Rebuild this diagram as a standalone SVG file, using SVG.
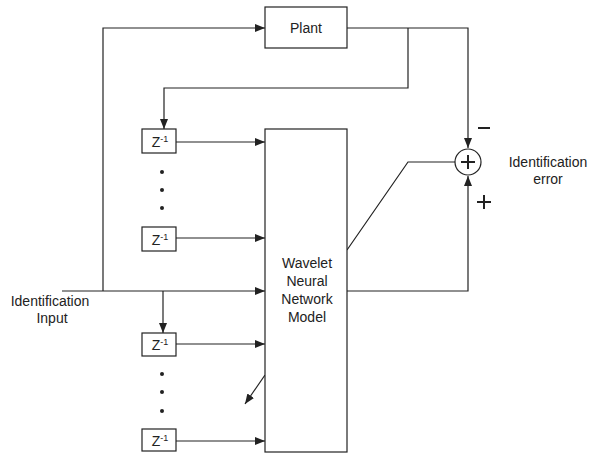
<svg xmlns="http://www.w3.org/2000/svg" width="592" height="455" viewBox="0 0 592 455">
<style>
.box{fill:#fff;stroke:#222;stroke-width:1.2}
.ln{fill:none;stroke:#222;stroke-width:1.2}
.ar{marker-end:url(#ah)}
text{font-family:"Liberation Sans",Arial,sans-serif;font-size:14px;fill:#222;text-anchor:middle}
.z{font-size:14px}
.sup{font-size:9px}
.dot{fill:#222}
.sg{stroke:#222;stroke-width:2;fill:none}
</style>
<defs>
<marker id="ah" markerUnits="userSpaceOnUse" markerWidth="10" markerHeight="8" refX="10" refY="4" orient="auto">
<path d="M0,0 L10,4 L0,8 z" fill="#222"/>
</marker>
</defs>
<rect width="592" height="455" fill="#fff"/>
<g id="connectors">
<path class="ln ar" d="M62,291 H265"/>
<path class="ln ar" d="M103,291 V28 H265"/>
<path class="ln ar" d="M347,28 H468 V148"/>
<path class="ln ar" d="M408,28 V88 H164 V129"/>
<path class="ln ar" d="M176,142 H265"/>
<path class="ln ar" d="M176,238 H265"/>
<path class="ln ar" d="M163,291 V333"/>
<path class="ln ar" d="M176,344 H265"/>
<path class="ln ar" d="M176,441 H265"/>
<path class="ln ar" d="M265,375 L245,404"/>
<path class="ln ar" d="M347,291 H468 V176"/>
<path class="ln" d="M347,250 L408,162 H455"/>
</g>
<g id="plant">
<rect class="box" x="265" y="7" width="82" height="41"/>
<text x="306" y="33">Plant</text>
</g>
<g id="wnn">
<rect class="box" x="265" y="129" width="82" height="323"/>
<text x="307" y="268">Wavelet</text>
<text x="307" y="286">Neural</text>
<text x="307" y="304">Network</text>
<text x="307" y="322">Model</text>
</g>
<g id="z1">
<rect class="box" x="142" y="129" width="34" height="24"/>
<text class="z" x="160" y="147">Z<tspan class="sup" dy="-5">-1</tspan></text>
</g>
<g id="dots1">
<circle class="dot" cx="162" cy="172" r="2"/>
<circle class="dot" cx="162" cy="190" r="2"/>
<circle class="dot" cx="162" cy="208" r="2"/>
</g>
<g id="z2">
<rect class="box" x="142" y="227" width="34" height="24"/>
<text class="z" x="160" y="245">Z<tspan class="sup" dy="-5">-1</tspan></text>
</g>
<g id="z3">
<rect class="box" x="142" y="333" width="34" height="23"/>
<text class="z" x="160" y="350">Z<tspan class="sup" dy="-5">-1</tspan></text>
</g>
<g id="dots2">
<circle class="dot" cx="162" cy="374" r="2"/>
<circle class="dot" cx="162" cy="392" r="2"/>
<circle class="dot" cx="162" cy="411" r="2"/>
</g>
<g id="z4">
<rect class="box" x="142" y="429" width="34" height="22"/>
<text class="z" x="160" y="446">Z<tspan class="sup" dy="-5">-1</tspan></text>
</g>
<g id="sum">
<circle class="box" cx="468" cy="162" r="13"/>
<path class="sg" d="M461,162 H475 M468,155 V169"/>
<path class="sg" d="M478,128 H490"/>
<path class="sg" stroke-width="1.5" d="M477,202 H491 M484,195 V209"/>
</g>
<g id="labels">
<text x="548" y="167">Identification</text>
<text x="548" y="184">error</text>
<text x="50" y="306">Identification</text>
<text x="52" y="323">Input</text>
</g>
</svg>
